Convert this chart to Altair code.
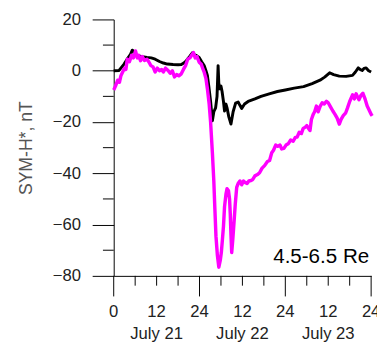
import altair as alt
import pandas as pd

# ---- data (hours from July 21 00:00, SYM-H* in nT) ----
black_h = [0, 1.5, 2.9, 4.0, 4.7, 5.2, 5.7, 6.2, 7, 8, 9.3, 10.5, 11.6, 12.8, 13.9, 15, 16.6, 18, 18.9,
           19.6, 20.3, 21.2, 22, 22.3, 23, 23.9, 24.6, 25.3, 25.8, 26.2, 26.6, 27.1, 27.6, 28, 28.5, 28.9,
           29.2, 29.4, 29.6, 30, 30.3, 30.7, 31, 31.4, 31.7, 32.2, 32.8, 33.4, 34.1, 34.8, 35.3, 35.8,
           36.6, 37.6, 39.5, 41.2, 43.5, 45.8, 48, 50.5, 53.1, 55.5, 57.7, 59, 60.4, 61.5, 63.1, 65,
           66.8, 67.6, 68.4, 69, 69.5, 70, 70.6, 71.3, 72]
black_v = [0, 0.1, 2.6, 5, 6.4, 8, 7.5, 6, 5.8, 5.5, 5.2, 5, 4.5, 3.6, 3.0, 2.6, 2.4, 2.3, 2.4,
           3, 3.9, 5.5, 7, 6.4, 6, 5.2, 3.5, 2, 0, -1.8, -6, -12, -19.5, -16, -14.5, -10,
           2, -5, -7, -6, -8, -12, -15.7, -13, -14.5, -18, -20.8, -16, -12.6, -12.2, -13.5, -14.7,
           -13, -12, -11, -10, -9, -8.1, -7.5, -6.8, -6.2, -5, -3.7, -2.5, -0.8, -1.5, -2.1, -2.2,
           -1.8, -0.5, 1.1, 0.4, 0.1, 0.9, 1.1, 0, -0.5]

magenta_h = [0, 0.5, 1.1, 1.6, 2, 2.5, 3, 3.4, 3.8, 4.4, 5, 5.5, 6.1, 6.6, 7, 7.5, 8, 8.6, 9.3, 9.8,
             10.4, 11, 11.6, 12.2, 12.8, 13.4, 13.9, 14.5, 15.2, 15.8, 16.4, 17, 17.6, 18.2, 18.9,
             19.5, 20.1, 20.7, 21.3, 21.8, 22.3, 22.8, 23.3, 23.9, 24.5, 25, 25.3, 25.8, 26.2, 26.7,
             27.1, 27.6, 28, 28.3, 28.6, 29, 29.4, 29.8, 30.1, 30.4, 30.7, 31, 31.4, 31.7, 32.1, 32.4,
             32.6, 32.8, 33, 33.3, 33.7, 34, 34.4, 34.8, 35.3, 35.8, 36.3, 36.7, 37.3, 37.8, 38.4,
             38.9, 39.5, 40.2, 40.8, 41.5, 42.2, 43, 43.6, 44.2, 44.7, 45.3, 45.9, 46.5, 47, 47.6,
             48.2, 48.8, 49.5, 50.2, 50.8, 51.3, 51.9, 52.5, 53, 53.6, 54, 54.5, 54.9, 55.3, 55.8,
             56.2, 56.7, 57.2, 57.7, 58.3, 58.9, 59.5, 60, 60.6, 61.3, 61.9, 62.5, 63.1, 63.6, 64.2,
             64.9, 65.4, 66, 66.8, 67.3, 67.8, 68.3, 68.6, 69.2, 69.7, 70.3, 70.9, 71.5, 72, 72.3]
magenta_v = [-7.5, -6, -3.7, -4.5, -2, -0.5, 1, 0.5, 4.5, 3.5, 6, 5, 7.7, 5, 6, 3.9, 5.5, 4, 4.5, 3.5,
             2, 1.5, -0.5, 1, 0, 0.5, -0.5, 1, 0.1, -1, 0, -2.4, -1.5, -2, -1.2,
             0.5, 2, 4.5, 5, 6, 7.1, 5, 5.5, 3.3, 2.5, 0.5, -0.5, -3, -7, -13,
             -20, -32, -43, -54, -64.5, -72, -76.6, -74, -70.9, -66, -60.7, -53, -48.1, -46, -46.8, -50,
             -55.7, -64, -70.9, -66, -58.2, -52, -45.5, -44, -43, -44.5, -43, -43.6, -44, -43, -42.8,
             -42.4, -41, -40.5, -39.8, -38, -37, -35.4, -35, -32, -31, -29, -29.5, -29, -30.5, -30.3,
             -29, -28.5, -27, -27.5, -26, -25.9, -24, -24.5, -22.5, -22, -21.4, -22.5, -23.3, -19, -17,
             -16, -13.8, -16, -14, -12.5, -13, -11.9, -12.5, -14, -15.7, -17, -18.5, -20.8, -19, -17.5,
             -16.4, -14.5, -12, -9.4, -11, -9, -10.5, -11.3, -9.5, -8.8, -11, -13.8, -15.5, -17, -17.6]

hour_pos = [0, 24, 48, 72]
hour_labels = ["0", "24", "24", "24"]
noon_pos = [12, 36, 60]
noon_labels = ["12", "12", "12"]
day_labels = ["July 21", "July 22", "July 23"]
x_minor = [6, 12, 18, 30, 36, 42, 54, 60, 66]
y_major = [-80, -60, -40, -20, 0, 20]
y_minor = [-70, -50, -30, -10, 10]
annotation = "4.5-6.5 Re"

W, H = 263, 262
FONT = "Liberation Sans"

df_black = pd.DataFrame({"h": black_h, "v": black_v, "o": range(len(black_h))})
df_mag = pd.DataFrame({"h": magenta_h, "v": magenta_v, "o": range(len(magenta_h))})

xs = alt.Scale(domain=[0, 72], nice=False, zero=False)
ys = alt.Scale(domain=[-80, 20], nice=False, zero=False)

x_axis = alt.Axis(values=hour_pos, ticks=False, labels=False, domainColor="black",
                  grid=False, title=None)
y_axis = alt.Axis(values=y_major, tickSize=22, tickColor="black", domainColor="black",
                  labelFont=FONT, labelFontSize=17, labelColor="#222", labelPadding=12, grid=False,
                  title="SYM-H*, nT", titleFont=FONT, titleFontSize=18, titleFontWeight="normal",
                  titleColor="#555", titleX=-89, titleY=131, titleAngle=270, titleAlign="center",
                  titleBaseline="middle")

black = alt.Chart(df_black).mark_line(color="black", strokeWidth=3, strokeJoin="round").encode(
    x=alt.X("h:Q", scale=xs, axis=x_axis),
    y=alt.Y("v:Q", scale=ys, axis=y_axis),
    order="o:Q",
)
magenta = alt.Chart(df_mag).mark_line(color="#ff00ff", strokeWidth=3.5, strokeJoin="round").encode(
    x=alt.X("h:Q", scale=xs), y=alt.Y("v:Q", scale=ys), order="o:Q",
)

xmaj = alt.Chart(pd.DataFrame({"h": hour_pos})).mark_rule(color="black", strokeWidth=1).encode(
    x=alt.X("h:Q", scale=xs), y=alt.value(H), y2=alt.value(H + 21))
xmin = alt.Chart(pd.DataFrame({"h": x_minor})).mark_rule(color="black", strokeWidth=1).encode(
    x=alt.X("h:Q", scale=xs), y=alt.value(H), y2=alt.value(H + 10))
ymin = alt.Chart(pd.DataFrame({"v": y_minor})).mark_rule(color="black", strokeWidth=1).encode(
    y=alt.Y("v:Q", scale=ys), x=alt.value(-11), x2=alt.value(0))

hours = alt.Chart(pd.DataFrame({"p": hour_pos, "t": hour_labels})).mark_text(
    align="center", baseline="middle", font=FONT, fontSize=17, color="#222"
).encode(x=alt.X("p:Q", scale=xs), y=alt.value(H + 37), text=alt.Text("t:N"))

noons = alt.Chart(pd.DataFrame({"p": noon_pos, "t": noon_labels})).mark_text(
    align="center", baseline="middle", font=FONT, fontSize=17, color="#222"
).encode(x=alt.X("p:Q", scale=xs), y=alt.value(H + 37), text=alt.Text("t:N"))

days = alt.Chart(pd.DataFrame({"p": noon_pos, "d": day_labels})).mark_text(
    align="center", baseline="middle", font=FONT, fontSize=17, color="#222"
).encode(x=alt.X("p:Q", scale=xs), y=alt.value(H + 60), text=alt.Text("d:N"))

txt = alt.Chart(pd.DataFrame({"t": [annotation]})).mark_text(
    align="right", baseline="alphabetic", font=FONT, fontSize=21, color="black"
).encode(x=alt.value(W - 2), y=alt.value(249), text="t:N")

chart = alt.layer(black, magenta, xmaj, xmin, ymin, hours, noons, days, txt).properties(
    width=W, height=H,
    autosize=alt.AutoSizeParams(type="none"),
    padding={"left": 108, "top": 8, "right": 6, "bottom": 70},
    background="white",
).configure_view(stroke=None)

chart.save("out.html", embed_options={"renderer": "svg", "actions": False})
